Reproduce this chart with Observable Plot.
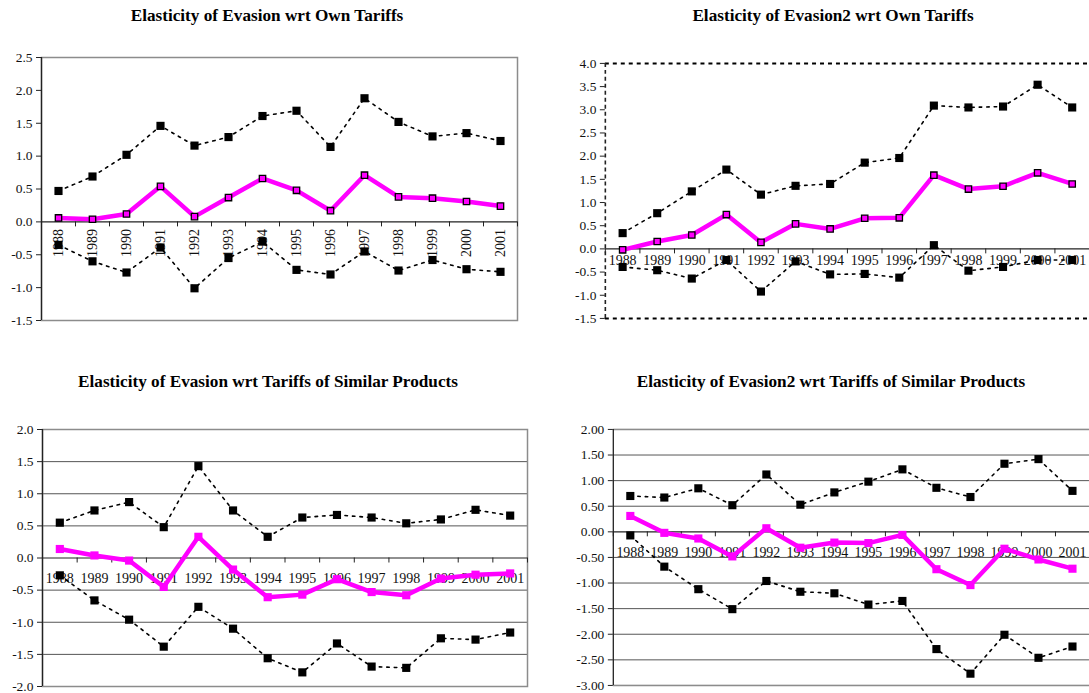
<!DOCTYPE html>
<html><head><meta charset="utf-8">
<script src="https://cdn.jsdelivr.net/npm/d3@7"></script>
<script src="https://cdn.jsdelivr.net/npm/@observablehq/plot@0.6"></script>
<style>
body{margin:0;width:1089px;height:693px;overflow:hidden;background:#fff;position:relative;font-family:"Liberation Serif","Times New Roman",serif}
.title{position:absolute;font-weight:bold;font-size:17.2px;line-height:20px;white-space:nowrap;transform:translateX(-50%);color:#000;font-family:"Liberation Serif","Times New Roman",serif}
.panel{position:absolute}
.panel svg{overflow:visible;font-family:"Liberation Serif","Times New Roman",serif !important}
.panel svg text, .panel svg g{font-family:"Liberation Serif","Times New Roman",serif !important}
</style></head><body>
<script>
const years = [1988,1989,1990,1991,1992,1993,1994,1995,1996,1997,1998,1999,2000,2001];

const titles = [
  "Elasticity of Evasion wrt Own Tariffs",
  "Elasticity of Evasion2 wrt Own Tariffs",
  "Elasticity of Evasion wrt Tariffs of Similar Products",
  "Elasticity of Evasion2 wrt Tariffs of Similar Products"
];

const upper1 = [0.47,0.69,1.02,1.46,1.16,1.29,1.61,1.69,1.14,1.88,1.52,1.30,1.35,1.23];
const mid1   = [0.06,0.04,0.12,0.54,0.08,0.37,0.66,0.48,0.17,0.71,0.38,0.36,0.31,0.24];
const lower1 = [-0.35,-0.60,-0.77,-0.39,-1.01,-0.55,-0.30,-0.73,-0.80,-0.45,-0.74,-0.58,-0.72,-0.76];

const upper2 = [0.34,0.77,1.24,1.71,1.17,1.36,1.40,1.86,1.96,3.09,3.05,3.07,3.54,3.05];
const mid2   = [-0.02,0.16,0.30,0.74,0.14,0.54,0.43,0.66,0.67,1.59,1.29,1.35,1.64,1.40];
const lower2 = [-0.39,-0.46,-0.64,-0.24,-0.92,-0.27,-0.55,-0.54,-0.62,0.08,-0.47,-0.39,-0.24,-0.24];

const upper3 = [0.55,0.74,0.87,0.48,1.43,0.74,0.33,0.63,0.67,0.63,0.54,0.60,0.75,0.66];
const mid3   = [0.14,0.04,-0.04,-0.45,0.33,-0.18,-0.61,-0.57,-0.33,-0.53,-0.58,-0.32,-0.26,-0.24];
const lower3 = [-0.27,-0.66,-0.96,-1.38,-0.76,-1.10,-1.56,-1.78,-1.33,-1.69,-1.71,-1.25,-1.27,-1.16];

const upper4 = [0.70,0.67,0.85,0.52,1.12,0.53,0.77,0.98,1.22,0.86,0.68,1.33,1.42,0.80];
const mid4   = [0.31,-0.02,-0.13,-0.48,0.07,-0.31,-0.21,-0.22,-0.06,-0.73,-1.04,-0.33,-0.54,-0.72];
const lower4 = [-0.07,-0.68,-1.12,-1.51,-0.96,-1.17,-1.20,-1.42,-1.35,-2.29,-2.77,-2.01,-2.46,-2.24];

const yTicks1 = [-1.5,-1.0,-0.5,0,0.5,1.0,1.5,2.0,2.5];
const yTicks2 = [-1.5,-1.0,-0.5,0,0.5,1.0,1.5,2.0,2.5,3.0,3.5,4.0];
const yTicks3 = [-2.0,-1.5,-1.0,-0.5,0,0.5,1.0,1.5,2.0];
const yTicks4 = [-3.0,-2.5,-2.0,-1.5,-1.0,-0.5,0,0.5,1.0,1.5,2.0];

const SERIF = '"Liberation Serif", "Times New Roman", serif';

function panel(o) {
  const rows = a => a.map((v,i) => ({x: i + 0.5, v}));
  const ppu = (o.height - o.mt - o.mb) / (o.yDomain[1] - o.yDomain[0]);
  const ppx = (o.width - o.ml - o.mr) / 14;
  const bounds = d3.range(0, 15);
  const marks = [];
  if (o.grid) marks.push(Plot.ruleY(o.yTicks.filter(t => t !== 0), {y: d => d, stroke: "#555", strokeWidth: 1}));
  if (o.frame) marks.push(Plot.frame({stroke: "#8c8c8c", strokeWidth: 1.5}));
  if (o.topBottom) marks.push(Plot.ruleY([o.yDomain[0], o.yDomain[1]], {y: d => d, stroke: o.topBottom.stroke, strokeWidth: o.topBottom.w, strokeDasharray: o.topBottom.dash}));
  marks.push(Plot.ruleY([0], {stroke: "#222", strokeWidth: 1.2}));
  marks.push(Plot.ruleX(bounds, {x: d => d, y1: 0, y2: -5 / ppu, stroke: "#222", strokeWidth: 1}));
  marks.push(Plot.ruleX([0], {x: d => d, y1: o.yDomain[0], y2: o.yDomain[1], stroke: "#222", strokeWidth: o.leftDash ? 1.6 : 1.3, strokeDasharray: o.leftDash || null}));
  // y ticks and labels
  marks.push(Plot.ruleY(o.yTicks, {y: d => d, x1: 0, x2: -5 / ppx, stroke: "#222", strokeWidth: 1}));
  marks.push(Plot.text(o.yTicks, {x: () => 0, y: d => d, text: d => d.toFixed(o.dec), textAnchor: "end", dx: -9, fontSize: 13.5, fill: "#111", fontFamily: SERIF}));
  if (o.rotate) {
    marks.push(Plot.text(years, {x: (d,i) => i + 0.5, y: () => 0, text: d => String(d), rotate: -90, textAnchor: "end", dy: 7, fontSize: 14, fill: "#111", fontFamily: SERIF}));
  } else {
    marks.push(Plot.text(years, {x: (d,i) => i + 0.5, y: () => 0, text: d => String(d), dy: o.labelDy, fontSize: 14, fill: "#111", fontFamily: SERIF}));
  }
  for (const s of [o.upper, o.lower]) {
    marks.push(Plot.line(rows(s), {x: "x", y: "v", stroke: "#000", strokeWidth: 1.6, strokeDasharray: "2.5,5"}));
    marks.push(Plot.dot(rows(s), {x: "x", y: "v", symbol: "square", r: 4.6, fill: "#000", stroke: "none"}));
  }
  marks.push(Plot.line(rows(o.mid), {x: "x", y: "v", stroke: "#ff00ff", strokeWidth: 4.5, strokeLinejoin: "miter"}));
  if (o.outlined) {
    marks.push(Plot.dot(rows(o.mid), {x: "x", y: "v", symbol: "square", r: 3.6, fill: "#ff00ff", stroke: "#000", strokeWidth: 1.3}));
  } else {
    marks.push(Plot.dot(rows(o.mid), {x: "x", y: "v", symbol: "square", r: 4.6, fill: "#ff00ff", stroke: "none"}));
  }
  const chart = Plot.plot({
    width: o.width, height: o.height,
    marginLeft: o.ml, marginRight: o.mr, marginTop: o.mt, marginBottom: o.mb,
    x: {domain: [0, 14], axis: null},
    y: {domain: o.yDomain, axis: null},
    style: {fontFamily: SERIF, fontSize: "13px", background: "transparent", overflow: "visible"},
    marks
  });
  const div = document.createElement("div");
  div.className = "panel";
  div.style.left = o.left + "px";
  div.style.top = o.top + "px";
  div.appendChild(chart);
  document.body.appendChild(div);
}

function addTitle(text, cx, cy) {
  const t = document.createElement("div");
  t.className = "title";
  t.textContent = text;
  t.style.left = cx + "px";
  t.style.top = (cy - 10) + "px";
  document.body.appendChild(t);
}

addTitle(titles[0], 267, 16);
addTitle(titles[1], 833, 16);
addTitle(titles[2], 268, 382);
addTitle(titles[3], 831, 382);

panel({left: 0, top: 40, width: 530, height: 300, ml: 41, mr: 13, mt: 17, mb: 20,
  yDomain: [-1.5, 2.5], yTicks: yTicks1, dec: 1, frame: true, rotate: true, outlined: true,
  upper: upper1, mid: mid1, lower: lower1});

panel({left: 560, top: 40, width: 531, height: 300, ml: 45, mr: 0, mt: 23, mb: 21,
  yDomain: [-1.5, 4.0], yTicks: yTicks2, dec: 1, topBottom: {stroke: "#000", w: 2, dash: "4,4"}, leftDash: "4,3", labelDy: 12, outlined: true,
  upper: upper2, mid: mid2, lower: lower2});

panel({left: 0, top: 410, width: 540, height: 283, ml: 42, mr: 13, mt: 19, mb: 7,
  yDomain: [-2.0, 2.0], yTicks: yTicks3, dec: 1, grid: true, frame: true, labelDy: 21, outlined: false,
  upper: upper3, mid: mid3, lower: lower3});

panel({left: 560, top: 410, width: 531, height: 283, ml: 53, mr: 0, mt: 19, mb: 7,
  yDomain: [-3.0, 2.0], yTicks: yTicks4, dec: 2, grid: true, topBottom: {stroke: "#8c8c8c", w: 1.5, dash: null}, labelDy: 21, outlined: false,
  upper: upper4, mid: mid4, lower: lower4});
</script>
</body></html>
